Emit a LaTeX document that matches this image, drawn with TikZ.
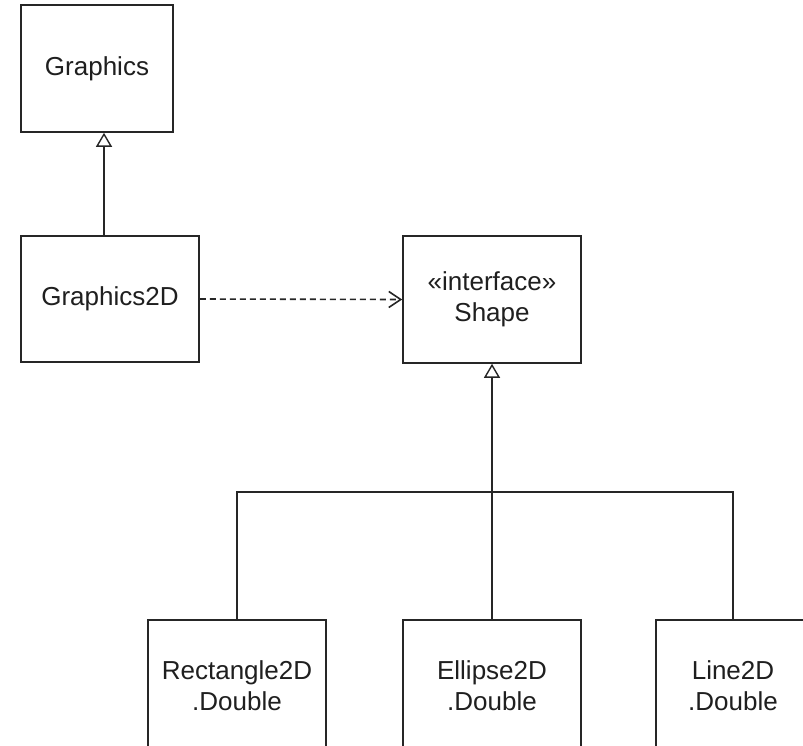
\documentclass[tikz,border=0pt]{standalone}
\usepackage{fontspec}
\setmainfont{Liberation Sans}
\usetikzlibrary{arrows.meta,calc}
\begin{document}
\begin{tikzpicture}[x=1pt,y=-1pt,
  cls/.style={draw=black!85,line width=1.6pt,fill=white,inner sep=0pt,align=center,
    font=\fontsize{26}{31}\selectfont,text=black!88},
  inh/.style={line width=1.6pt,draw=black!85,-{Triangle[open,length=14pt,width=16pt,line width=1.4pt]}},
  dep/.style={line width=1.6pt,draw=black!85,dash pattern=on 6pt off 4pt,-{Straight Barb[length=12pt,width=16pt,line width=1.6pt]}},
  gen/.style={line width=1.6pt,draw=black!85}]
\useasboundingbox (0,0) rectangle (803,745);
\node[cls,minimum width=152pt,minimum height=127pt] (G) at (97,68.5) {Graphics};
\node[cls,minimum width=178pt,minimum height=126pt] (G2) at (110,299) {Graphics2D};
\node[cls,minimum width=178pt,minimum height=127pt] (S) at (492,299.5) {«interface»\\Shape};
\node[cls,minimum width=178pt,minimum height=132pt,anchor=north] (R) at (237,619) {Rectangle2D\\.Double};
\node[cls,minimum width=178pt,minimum height=132pt,anchor=north] (E) at (492,619) {Ellipse2D\\.Double};
\node[cls,minimum width=154pt,minimum height=132pt,anchor=north] (L) at (733,619) {Line2D\\.Double};
\coordinate (gx) at (104,0);
\coordinate (J) at (492,492);
\draw[inh] (G2.north -| gx) -- (G.south -| gx);
\draw[dep] (G2.east) -- (S.west);
\draw[inh] (E.north) -- (S.south);
\draw[gen] (R.north) -- (R.north |- J) -- (L.north |- J) -- (L.north);
\end{tikzpicture}
\end{document}
